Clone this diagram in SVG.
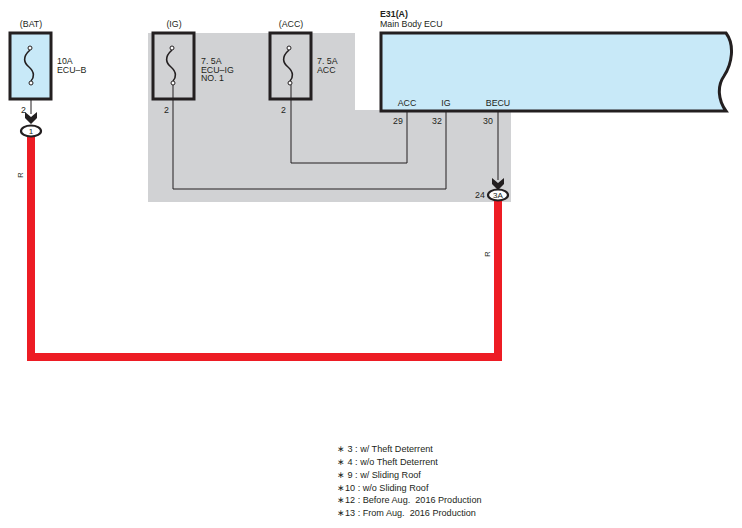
<svg xmlns="http://www.w3.org/2000/svg" width="742" height="528" viewBox="0 0 742 528">
<style>
text{font-family:"Liberation Sans",Arial,sans-serif;font-size:8.8px;fill:#231f20}
.box{fill:#c8e9f8;stroke:#231f20;stroke-width:3}
.w{fill:none;stroke:#231f20;stroke-width:1}
.fuse{fill:none;stroke:#231f20;stroke-width:1.6}
.pin{fill:#fff;stroke:#231f20;stroke-width:1}
.red{fill:none;stroke:#ed1c24;stroke-width:8;stroke-linejoin:miter}
.conn{fill:#fff;stroke:#231f20;stroke-width:2.2}
.chev{fill:#231f20}
.mid{text-anchor:middle}
.leg{font-size:9.1px}
</style>
<rect width="742" height="528" fill="#fff"/>
<polygon points="148,33 355,33 355,110 511,110 511,202 148,202" fill="#d1d2d4"/>
<g id="connectors">
<path class="red" d="M31,136 V357 H498 V200"/>
<path class="w" d="M31,85 V114"/>
<path class="w" d="M173,85 V189 H446 V112"/>
<path class="w" d="M291,85 V163 H407 V112"/>
<path class="w" d="M498,112 V180"/>
<text transform="translate(23,175) rotate(-90)" class="mid" style="font-size:7.5px">R</text>
<text transform="translate(490,254) rotate(-90)" class="mid" style="font-size:7.5px">R</text>
</g>
<g id="fuse-bat">
<text x="31" y="27" class="mid">(BAT)</text>
<rect class="box" x="10" y="33" width="41" height="66"/>
<path class="fuse" d="M30,50 C22,57 24,63 29,67 C35,72 34,78 31,81"/>
<circle class="pin" cx="30" cy="48" r="2"/>
<circle class="pin" cx="31" cy="83" r="2"/>
<text x="57" y="64">10A</text>
<text x="57" y="73">ECU–B</text>
<text x="21" y="113">2</text>
</g>
<g id="conn-1">
<polygon class="chev" points="25,112 31,117 37,112 37,118 31,124 25,118"/>
<ellipse class="conn" cx="31" cy="131" rx="10" ry="5.5"/>
<text x="31" y="134" class="mid" style="font-size:8px">1</text>
</g>
<g id="fuse-ig">
<text x="174" y="27" class="mid">(IG)</text>
<rect class="box" x="153" y="33" width="41" height="66" style="fill:none"/>
<path class="fuse" d="M172,50 C164,57 166,63 171,67 C177,72 176,78 173,81"/>
<circle class="pin" cx="172" cy="48" r="2"/>
<circle class="pin" cx="173" cy="83" r="2"/>
<text x="201" y="64">7. 5A</text>
<text x="201" y="72.5">ECU–IG</text>
<text x="201" y="81">NO. 1</text>
<text x="164" y="113">2</text>
</g>
<g id="fuse-acc">
<text x="291" y="27" class="mid">(ACC)</text>
<rect class="box" x="270" y="33" width="41" height="66" style="fill:none"/>
<path class="fuse" d="M289,50 C281,57 283,63 288,67 C294,72 293,78 290,81"/>
<circle class="pin" cx="289" cy="48" r="2"/>
<circle class="pin" cx="290" cy="83" r="2"/>
<text x="317" y="64">7. 5A</text>
<text x="317" y="72.5">ACC</text>
<text x="281" y="113">2</text>
</g>
<g id="ecu">
<text x="380" y="17" style="font-weight:bold">E31(A)</text>
<text x="380" y="27">Main Body ECU</text>
<path class="box" d="M726,33 H381 V111 H726 C718,100 717,86 724,76 C732,64 735,45 726,33 Z"/>
<text x="407" y="106" class="mid">ACC</text>
<text x="446" y="106" class="mid">IG</text>
<text x="498" y="106" class="mid">BECU</text>
<text x="398" y="124" class="mid">29</text>
<text x="437" y="124" class="mid">32</text>
<text x="488" y="124" class="mid">30</text>
</g>
<g id="conn-3A">
<polygon class="chev" points="492,178 498,183 504,178 504,184 498,190 492,184"/>
<ellipse class="conn" cx="498" cy="195" rx="10" ry="5.5"/>
<text x="498" y="198" class="mid" style="font-size:8px">3A</text>
<text x="480" y="198" class="mid">24</text>
</g>
<g id="legend">
<text class="leg" x="337" y="452">∗ 3 : w/ Theft Deterrent</text>
<text class="leg" x="337" y="465">∗ 4 : w/o Theft Deterrent</text>
<text class="leg" x="337" y="478">∗ 9 : w/ Sliding Roof</text>
<text class="leg" x="337" y="491">∗10 : w/o Sliding Roof</text>
<text class="leg" x="337" y="503">∗12 : Before Aug. &#160;2016 Production</text>
<text class="leg" x="337" y="516">∗13 : From Aug. &#160;2016 Production</text>
</g>
</svg>
